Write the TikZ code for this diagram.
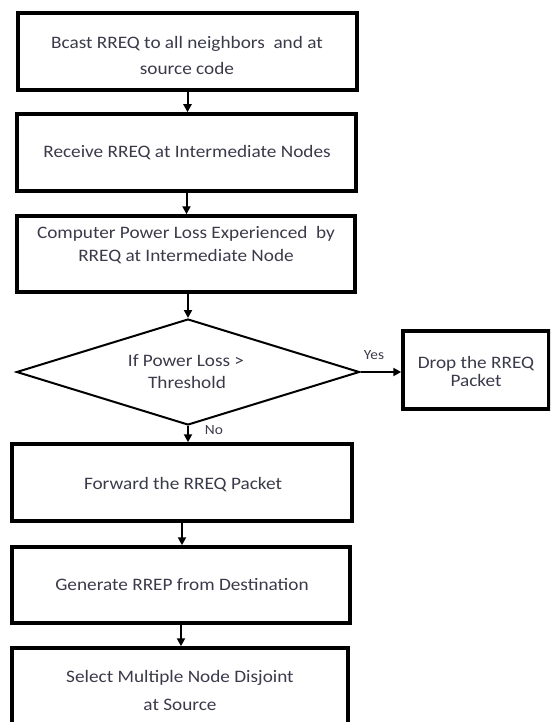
\documentclass[tikz,border=0pt]{standalone}
\usepackage{fontspec}
\setmainfont{Carlito}[FakeStretch=1.1]
\usetikzlibrary{shapes.geometric,arrows.meta}
\definecolor{txt}{RGB}{58,58,74}
\tikzset{
  pbox/.style={draw=black,line width=3.5pt,rectangle,inner sep=0pt},
  dec/.style={draw=black,line width=2pt,diamond,aspect=3.24,inner sep=0pt,
    minimum width=343pt,minimum height=106pt},
  tl/.style={text=txt,font=\fontsize{17.5}{21}\selectfont,inner sep=0pt,anchor=base},
  arr/.style={draw=black,line width=2pt,-{Triangle[length=8pt,width=8pt]}},
  lbl/.style={text=txt,font=\fontsize{14}{16}\selectfont,inner sep=0pt}
}
\begin{document}
\begin{tikzpicture}[x=1pt,y=-1pt]
\useasboundingbox (0,0) rectangle (550,722);
\clip (0,0) rectangle (550,722);
\node[pbox,minimum width=339pt,minimum height=77pt] (b1) at (187.5,51.5) {};
\node[pbox,minimum width=339pt,minimum height=77pt] (b2) at (186.5,152.5) {};
\node[pbox,minimum width=338pt,minimum height=76pt] (b3) at (186,254) {};
\node[dec] (d) at (188,372) {};
\node[pbox,minimum width=146pt,minimum height=78pt] (drop) at (476,370) {};
\node[pbox,minimum width=340pt,minimum height=77pt] (fwd) at (182,482.5) {};
\node[pbox,minimum width=338pt,minimum height=76pt] (gen) at (181,585) {};
\node[pbox,minimum width=336pt,minimum height=100pt] (sel) at (180,698) {};
% texts
\node[tl] (t1a) at (187,49) {Bcast RREQ to all neighbors~ and at};
\node[tl] (t1b) at (187,75) {source code};
\node[tl] (t2) at (187,158) {Receive RREQ at Intermediate Nodes};
\node[tl] (t3a) at (186,238) {Computer Power Loss Experienced~ by};
\node[tl] (t3b) at (186,261) {RREQ at Intermediate Node};
\node[tl] (tda) at (186,366) {If Power Loss \textgreater};
\node[tl] (tdb) at (187,388) {Threshold};
\node[tl] (tra) at (476,368) {Drop the RREQ};
\node[tl] (trb) at (476,386) {Packet};
\node[tl] (tf) at (183,489) {Forward the RREQ Packet};
\node[tl] (tg) at (182,590) {Generate RREP from Destination};
\node[tl] (tsa) at (180,682) {Select Multiple Node Disjoint};
\node[tl] (tsb) at (180,710) {at Source};
% connectors
\draw[arr] (b1.south) -- (b1.south |- b2.north);
\draw[arr] (b2.south) -- (b2.south |- b3.north);
\draw[arr] (d.north |- b3.south) -- (d.north);
\draw[arr] (d.east) -- (drop.west |- d.east);
\draw[arr] (d.south) -- (d.south |- fwd.north);
\draw[arr] (fwd.south) -- (fwd.south |- gen.north);
\draw[arr] (gen.south) -- (gen.south |- sel.north);
\node[lbl] (yes) at (374,355) {Yes};
\node[lbl] (no) at (214,430) {No};
\end{tikzpicture}
\end{document}
